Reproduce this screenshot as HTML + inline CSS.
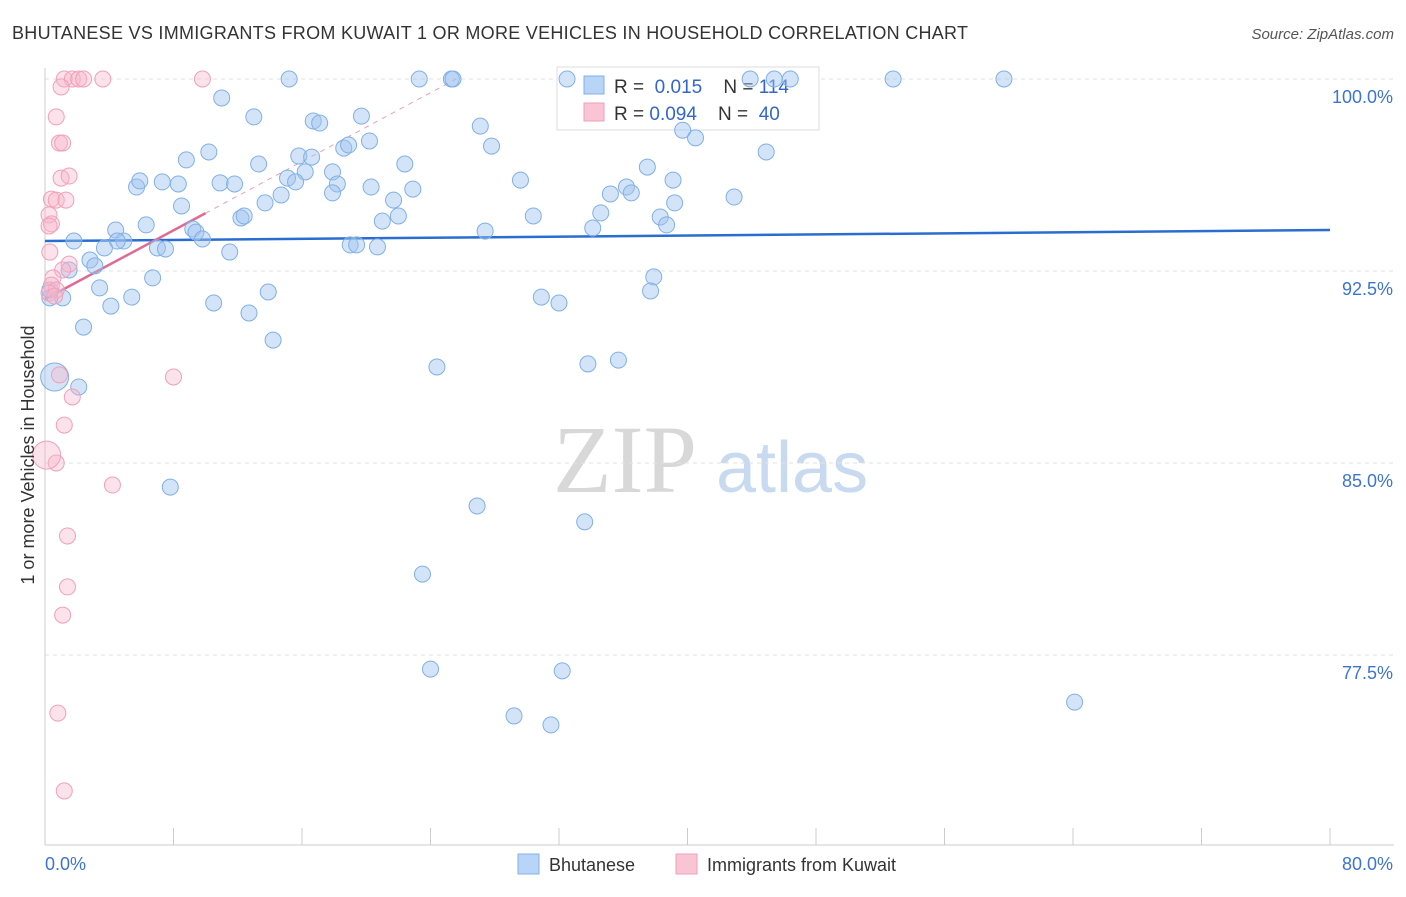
<!DOCTYPE html>
<html><head><meta charset="utf-8"><style>
body{margin:0;background:#fff;font-family:"Liberation Sans",sans-serif;}
</style></head><body>
<svg id="chart" width="1406" height="892" xmlns="http://www.w3.org/2000/svg" font-family="Liberation Sans, sans-serif">
<text x="12" y="39" font-size="18" fill="#333" textLength="956">BHUTANESE VS IMMIGRANTS FROM KUWAIT 1 OR MORE VEHICLES IN HOUSEHOLD CORRELATION CHART</text>
<text x="1394" y="39" font-size="15" fill="#555" font-style="italic" text-anchor="end">Source: ZipAtlas.com</text>
<g>
<text x="553" y="492" font-size="96" fill="#d8d8d8" style="font-family:'Liberation Serif',serif">ZIP</text>
<text x="716" y="492" font-size="72" fill="#c8daf0">atlas</text>
</g>
<g id="grid"></g>
<g id="axes"></g>
<g>
<rect x="557" y="67" width="262" height="63" fill="#fff" stroke="#ddd"/>
<rect x="584" y="76" width="20" height="18" fill="#b8d4f6" stroke="#7fb0e8"/>
<rect x="584" y="103" width="20" height="18" fill="#f9c4d4" stroke="#f0a0b8"/>
<text x="614" y="93" font-size="19" fill="#333">R = <tspan fill="#3366cc">&#160;0.015</tspan>&#160;&#160;&#160; N = <tspan fill="#3366cc">114</tspan></text>
<text x="614" y="120" font-size="19" fill="#333">R = <tspan fill="#3366cc">0.094</tspan>&#160;&#160;&#160; N = <tspan fill="#3366cc">&#160;40</tspan></text>
</g>
<g id="lines"></g>
<g id="pts"></g>
<text transform="translate(34,455) rotate(-90)" font-size="18" fill="#333" text-anchor="middle">1 or more Vehicles in Household</text>
<g>
<rect x="518" y="854" width="21" height="20" fill="#b8d4f6" stroke="#7fb0e8"/>
<text x="549" y="871" font-size="18" fill="#333">Bhutanese</text>
<rect x="676" y="854" width="21" height="20" fill="#f9c4d4" stroke="#f0a0b8"/>
<text x="707" y="871" font-size="18" fill="#333">Immigrants from Kuwait</text>
</g>
</svg>
<script>
const yTicks=[100,92.5,85,77.5];
const yTickLabels=["100.0%","92.5%","85.0%","77.5%"];
const xTickVals=[0,8,16,24,32,40,48,56,64,72,80];
const blueX=[32.5,15.2,23.3,25.3,25.4,43.9,45.4,46.4,52.8,59.7,11.0,13.0,19.7,16.7,17.1,27.1,39.7,40.5,10.2,27.8,44.9,18.6,18.9,20.2,8.8,13.3,15.8,16.6,22.4,37.5,17.9,16.2,15.1,15.6,5.7,5.9,7.3,8.3,10.9,11.8,18.2,20.3,22.9,29.6,39.1,35.2,36.2,36.5,14.7,17.9,13.7,8.5,21.7,22.0,21.0,30.4,34.6,38.3,39.2,42.9,38.7,6.3,4.4,12.2,12.4,9.2,9.4,9.8,27.4,34.1,1.8,4.9,4.5,3.7,7.0,7.5,19.0,19.4,20.7,11.5,2.8,3.1,1.5,6.7,37.9,37.7,3.4,5.4,10.5,13.9,4.1,12.7,30.9,32.0,1.1,0.3,2.4,14.2,24.4,33.8,35.7,2.1,0.6,7.8,26.9,33.6,23.5,24.0,32.2,29.2,31.5,64.1,0.3];
const blueY=[100,100,100,100,100,100,100,100,100,100,99.26,98.52,98.55,98.36,98.28,98.16,98.0,97.7,97.15,97.38,97.15,97.3,97.42,97.58,96.84,96.68,96.99,96.95,96.68,96.56,96.37,96.37,96.13,95.98,95.78,96.02,95.98,95.9,95.94,95.9,95.9,95.78,95.7,96.05,96.05,95.51,95.78,95.55,95.47,95.55,95.16,95.04,95.27,94.65,94.45,94.65,94.77,94.61,95.16,95.39,94.3,94.3,94.1,94.57,94.65,94.14,94.02,93.75,94.06,94.18,93.67,93.67,93.67,93.4,93.4,93.36,93.52,93.52,93.44,93.24,92.93,92.7,92.54,92.23,92.27,91.72,91.84,91.48,91.25,91.68,91.13,90.86,91.48,91.25,91.45,91.45,90.31,89.8,88.75,88.87,89.02,87.97,88.36,84.06,83.32,82.7,80.66,76.95,76.88,75.12,74.77,75.66,91.76];
const blueBig=[102,114];
const pinkX=[1.2,1.7,2.1,2.4,3.6,9.8,1.0,0.7,0.9,1.1,1.0,1.5,0.4,0.7,1.3,0.25,0.4,0.25,0.3,1.5,1.1,0.5,0.4,0.7,0.25,0.6,0.9,8.0,1.7,1.2,0.7,0.1,4.2,1.4,1.4,1.1,0.8,1.2];
const pinkY=[100,100,100,100,100,100,99.69,98.52,97.5,97.5,96.13,96.21,95.31,95.27,95.27,94.69,94.34,94.26,93.24,92.77,92.54,92.23,91.95,91.76,91.64,91.52,88.44,88.36,87.58,86.48,85.0,85.31,84.14,82.15,80.16,79.06,75.23,72.19];
const pinkBig=[31];
const blueTrend=[93.67,94.1];
const pinkTrend=[91.4,0.336];
const X=v=>45+v*(1285/80);
const Y=v=>79+(100-v)*25.6;
const NS="http://www.w3.org/2000/svg";
function mk(tag,attrs,parent){const e=document.createElementNS(NS,tag);for(const k in attrs)e.setAttribute(k,attrs[k]);document.getElementById(parent).appendChild(e);return e;}
yTicks.forEach((t,i)=>{
 const l=mk('line',{x1:45,x2:1394,y1:Y(t),y2:Y(t),stroke:'#e2e2e2','stroke-dasharray':'4,4'},'grid');
 
 
 const tx=mk('text',{x:1393,y:Y(t)+24,'font-size':18,fill:'#3d74d0','text-anchor':'end'},'grid');
 tx.textContent=yTickLabels[i];
 
 
});
const ax=mk('line',{x1:45,x2:1394,y1:845,y2:845,stroke:'#ccc'},'axes');


const ay=mk('line',{x1:45,x2:45,y1:68,y2:845,stroke:'#ccc'},'axes');


xTickVals.forEach(v=>{
 const t=mk('line',{x1:X(v),x2:X(v),y1:828,y2:845,stroke:'#ccc'},'axes');
 
 
});
const xl0=mk('text',{x:45,y:870,'font-size':18,fill:'#3d74d0'},'axes');xl0.textContent='0.0%';


const xl1=mk('text',{x:1393,y:870,'font-size':18,fill:'#3d74d0','text-anchor':'end'},'axes');xl1.textContent='80.0%';


blueX.forEach((x,i)=>{
 const big=blueBig.includes(i);
 const c=mk('circle',{cx:X(x),cy:Y(blueY[i]),r:big?14:8,fill:'rgba(160,196,240,0.45)',stroke:'#80b0e6','stroke-width':1},'pts');
 
 
});
pinkX.forEach((x,i)=>{
 const big=pinkBig.includes(i);
 const c=mk('circle',{cx:X(x),cy:Y(pinkY[i]),r:big?14:8,fill:'rgba(248,182,202,0.4)',stroke:'#f0a0ba','stroke-width':1},'pts');
 
 
});
const bl=mk('line',{x1:X(0),x2:X(80),y1:Y(blueTrend[0]),y2:Y(blueTrend[1]),stroke:'#2a6dd0','stroke-width':2.5},'lines');


const pEnd=(100-pinkTrend[0])/pinkTrend[1];
const pd=mk('line',{x1:X(10),x2:X(pEnd),y1:Y(pinkTrend[0]+pinkTrend[1]*10),y2:Y(100),stroke:'#e8a0b8','stroke-width':1,'stroke-dasharray':'5,5'},'lines');


const pl=mk('line',{x1:X(0),x2:X(10),y1:Y(pinkTrend[0]),y2:Y(pinkTrend[0]+pinkTrend[1]*10),stroke:'#e06a93','stroke-width':2.5},'lines');


</script>
</body></html>
